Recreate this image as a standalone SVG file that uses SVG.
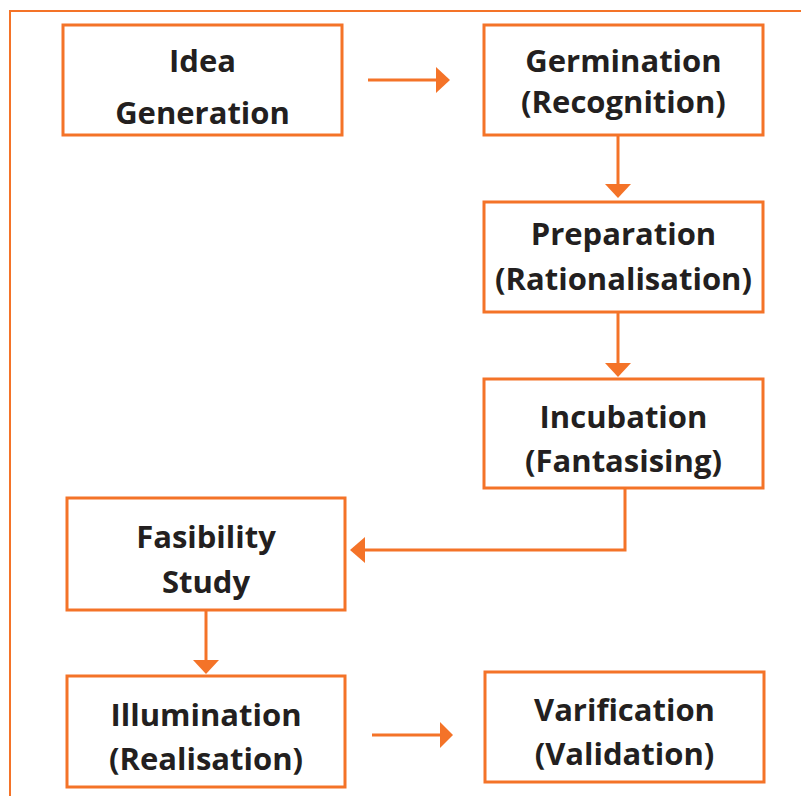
<svg xmlns="http://www.w3.org/2000/svg" width="801" height="796" viewBox="0 0 801 796">
<style>
.box{fill:#fff;stroke:#F47328;stroke-width:3}
.t{font-family:"Open Sans","Liberation Sans",sans-serif;font-weight:700;font-size:31px;fill:#231F20;text-anchor:middle}
.ln{fill:none;stroke:#F47328;stroke-width:3}
.hd{fill:#F47328}
.frame{fill:none;stroke:#F47328;stroke-width:2}
</style>
<rect width="801" height="796" fill="#fff"/>
<path class="frame" d="M10,796 V11 H801"/>
<g id="idea-generation"><rect class="box" x="63" y="25" width="279" height="110"/><text class="t" x="202.5" y="72">Idea</text><text class="t" x="202.5" y="124">Generation</text></g>
<g id="germination"><rect class="box" x="484" y="25" width="279" height="110"/><text class="t" x="623.5" y="72">Germination</text><text class="t" x="623.5" y="113">(Recognition)</text></g>
<g id="preparation"><rect class="box" x="484" y="202" width="279" height="110"/><text class="t" x="623.5" y="245">Preparation</text><text class="t" x="623.5" y="290">(Rationalisation)</text></g>
<g id="incubation"><rect class="box" x="484" y="379" width="279" height="109"/><text class="t" x="623.5" y="428">Incubation</text><text class="t" x="623.5" y="472">(Fantasising)</text></g>
<g id="fasibility-study"><rect class="box" x="67" y="498" width="278" height="112"/><text class="t" x="206" y="548">Fasibility</text><text class="t" x="206" y="593">Study</text></g>
<g id="illumination"><rect class="box" x="67" y="676" width="278" height="111"/><text class="t" x="206" y="726">Illumination</text><text class="t" x="206" y="770">(Realisation)</text></g>
<g id="varification"><rect class="box" x="485" y="672" width="279" height="110"/><text class="t" x="624.5" y="721">Varification</text><text class="t" x="624.5" y="765">(Validation)</text></g>
<g id="connectors">
<path class="ln" d="M368,80 H440"/><polygon class="hd" points="450,80 436,67 436,93"/>
<path class="ln" d="M618,135 V188"/><polygon class="hd" points="618,198 605,184 631,184"/>
<path class="ln" d="M618,312 V367"/><polygon class="hd" points="618,377 605,363 631,363"/>
<path class="ln" d="M625,488 V550 H360"/><polygon class="hd" points="350,550 365,537 365,563"/>
<path class="ln" d="M206,610 V664"/><polygon class="hd" points="206,674 193,660 219,660"/>
<path class="ln" d="M372,735 H443"/><polygon class="hd" points="453,735 440,722 440,748"/>
</g>
</svg>
